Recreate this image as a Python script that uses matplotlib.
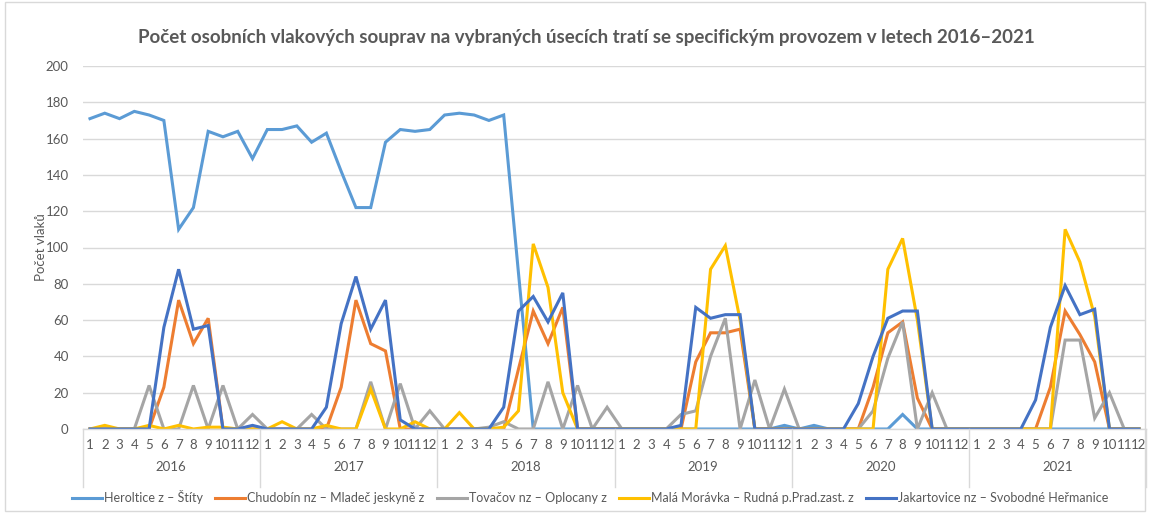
import matplotlib
matplotlib.use("Agg")
import matplotlib.pyplot as plt
from matplotlib.patches import Rectangle
import numpy as np

years = ["2016", "2017", "2018", "2019", "2020", "2021"]
months = [str(m) for m in range(1, 13)]

heroltice = [171, 174, 171, 175, 173, 170, 110, 122, 164, 161, 164, 149,
             165, 165, 167, 158, 163, 142, 122, 122, 158, 165, 164, 165,
             173, 174, 173, 170, 173, 86, 0, 0, 0, 0, 0, 0,
             0, 0, 0, 0, 0, 0, 0, 0, 0, 0, 0, 2,
             0, 2, 0, 0, 0, 0, 0, 8, 0, 0, 0, 0,
             0, 0, 0, 0, 0, 0, 0, 0, 0, 0, 0, 0]
chudobin = [0, 0, 0, 0, 0, 23, 71, 47, 61, 0, 0, 0,
            0, 0, 0, 0, 0, 23, 71, 47, 43, 0, 0, 0,
            0, 0, 0, 0, 0, 33, 65, 47, 67, 0, 0, 0,
            0, 0, 0, 0, 0, 37, 53, 53, 55, 0, 0, 0,
            0, 0, 0, 0, 0, 23, 53, 59, 17, 0, 0, 0,
            0, 0, 0, 0, 0, 23, 65, 52, 37, 0, 0, 0]
tovacov = [0, 0, 0, 0, 24, 0, 0, 24, 0, 24, 0, 8,
           0, 0, 0, 8, 0, 0, 0, 26, 0, 25, 0, 10,
           0, 0, 0, 1, 4, 0, 0, 26, 0, 24, 0, 12,
           0, 0, 0, 0, 8, 10, 40, 61, 0, 27, 0, 22,
           0, 0, 0, 0, 0, 10, 39, 59, 0, 20, 0, 0,
           0, 0, 0, 0, 0, 0, 49, 49, 6, 20, 0, 0]
mala_moravka = [0, 2, 0, 0, 2, 0, 2, 0, 1, 1, 0, 0,
                0, 4, 0, 0, 2, 0, 0, 22, 0, 0, 4, 0,
                0, 9, 0, 0, 1, 10, 102, 78, 20, 0, 0, 0,
                0, 0, 0, 0, 0, 0, 88, 101, 60, 0, 0, 0,
                0, 0, 0, 0, 0, 0, 88, 105, 60, 0, 0, 0,
                0, 0, 0, 0, 0, 0, 110, 92, 62, 0, 0, 0]
jakartovice = [0, 0, 0, 0, 0, 56, 88, 55, 57, 0, 0, 2,
               0, 0, 0, 0, 12, 58, 84, 55, 71, 5, 0, 0,
               0, 0, 0, 0, 12, 65, 73, 59, 75, 0, 0, 0,
               0, 0, 0, 0, 2, 67, 61, 63, 63, 0, 0, 0,
               0, 0, 0, 0, 14, 40, 61, 65, 65, 0, 0, 0,
               0, 0, 0, 0, 16, 56, 79, 63, 66, 0, 0, 0]

series = [
    ("Heroltice z – Štíty", heroltice, "#5B9BD5"),
    ("Chudobín nz – Mladeč jeskyně z", chudobin, "#ED7D31"),
    ("Tovačov nz – Oplocany z", tovacov, "#A5A5A5"),
    ("Malá Morávka – Rudná p.Prad.zast. z", mala_moravka, "#FFC000"),
    ("Jakartovice nz – Svobodné Heřmanice", jakartovice, "#4472C4"),
]

plt.rcParams['font.family'] = ['Lato', 'DejaVu Sans']
txt = "#595959"

fig = plt.figure(figsize=(11.5, 5.13), dpi=100)
ax = fig.add_axes([82.6 / 1150, 1 - 429 / 513, (1146.4 - 82.6) / 1150, (429 - 66) / 513])

n = len(years) * 12
x = np.arange(n)
for name, vals, col in series:
    ax.plot(x, vals, color=col, lw=2.2, label=name, solid_joinstyle='miter')

ax.set_xlim(-0.5, n - 0.5)
ax.set_ylim(0, 200)
ax.set_yticks(range(0, 201, 20))
ax.grid(axis='y', color='#D9D9D9', lw=1)
ax.set_axisbelow(True)
for s in ['top', 'right', 'left']:
    ax.spines[s].set_visible(False)
ax.spines['bottom'].set_color('#D9D9D9')
ax.spines['bottom'].set_linewidth(1)
ax.tick_params(axis='y', length=0, labelsize=9.5, labelcolor=txt, pad=10)
ax.set_xticks(x)
ax.set_xticklabels(months * len(years))
ax.tick_params(axis='x', length=0, labelsize=9.5, labelcolor=txt, pad=7)
ax.set_ylabel("Počet vlaků", fontsize=9.5, color=txt, labelpad=-1)

trans = ax.get_xaxis_transform()
for i, y in enumerate(years):
    ax.text(i * 12 + 5.5, -0.105, y, transform=trans, ha='center', va='center',
            fontsize=9.5, color=txt)
for i in range(len(years) + 1):
    ax.plot([i * 12 - 0.5] * 2, [0, -0.16], transform=trans, color='#D9D9D9',
            lw=1, clip_on=False)

fig.text(0.51, 1 - 37 / 513,
         "Počet osobních vlakových souprav na vybraných úsecích tratí se specifickým provozem v letech 2016–2021",
         ha='center', va='center', fontsize=13.5, fontweight='bold', color=txt)

fig.legend(loc='center', bbox_to_anchor=(0.513, 1 - 497 / 513), ncol=5, frameon=False,
           fontsize=9, labelcolor=txt, handlelength=2.4, handletextpad=0.15,
           columnspacing=1.0)

fig.patches.append(Rectangle((0.004, 0.004), 0.992, 0.992, transform=fig.transFigure,
                             fill=False, edgecolor='#D9D9D9', lw=1))

fig.savefig("out.png", dpi=100, facecolor='white')
